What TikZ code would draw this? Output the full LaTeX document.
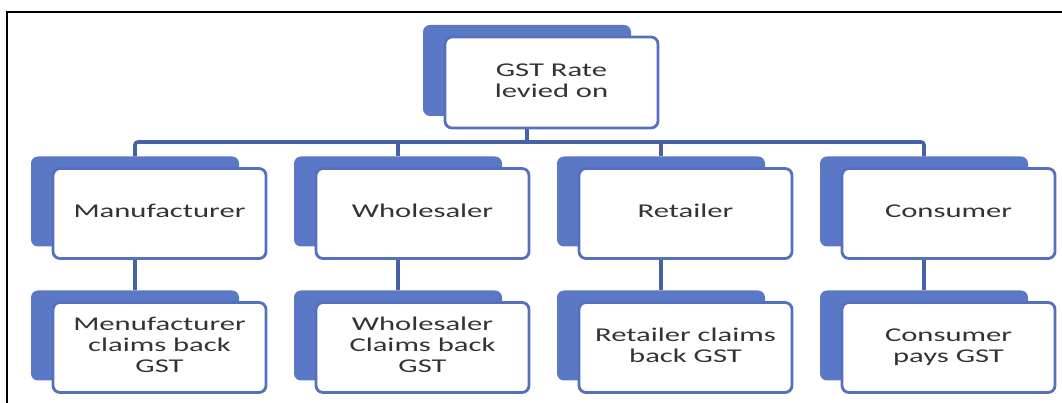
\documentclass[tikz,border=0pt]{standalone}
\usepackage{fontspec}
\setmainfont{Carlito}

\definecolor{gstblue}{HTML}{5B78C6}
\definecolor{gstedge}{HTML}{5470BE}
\definecolor{gstline}{HTML}{4661A6}
\definecolor{gsttext}{HTML}{333333}

% box labels are set wide, as in the chart
\newcommand{\wide}[1]{\scalebox{1.57}[1]{\begin{tabular}{@{}c@{}}#1\end{tabular}}}

\begin{document}
\begin{tikzpicture}[x=1pt, y=1pt,
  back/.style={rectangle, rounded corners=7pt, fill=gstblue,
    minimum width=208pt, minimum height=90pt},
  front/.style={rectangle, rounded corners=7pt, draw=gstedge, line width=2.8pt,
    fill=white, minimum width=213pt, minimum height=90pt, inner sep=0pt,
    text=gsttext, font=\fontsize{19.5}{21}\selectfont,
    xshift=24.5pt, yshift=-12pt},
  link/.style={draw=gstline, line width=3.6pt}]
  \useasboundingbox (0,0) rectangle (1062,403);
  \draw[line width=2.5pt] (7,0) -- (7,391) -- (1062,391);

  % top
  \node[back, minimum height=91pt] (rateB) at (527,332.5) {};
  \node[front, minimum height=91pt] (rate) at (rateB) {\wide{GST Rate\\levied on}};

  % middle row
  \node[back] (mfrB) at (135,201.5) {};
  \node[front] (mfr) at (mfrB) {\wide{Manufacturer}};
  \node[back] (whlB) at (398,201.5) {};
  \node[front] (whl) at (whlB) {\wide{Wholesaler}};
  \node[back] (retB) at (661,201.5) {};
  \node[front] (ret) at (retB) {\wide{Retailer}};
  \node[back] (conB) at (924,201.5) {};
  \node[front] (con) at (conB) {\wide{Consumer}};

  % bottom row
  \node[back] (mfrlB) at (135,67.5) {};
  \node[front] (mfrl) at (mfrlB) {\wide{Menufacturer\\claims back\\GST}};
  \node[back] (whllB) at (398,67.5) {};
  \node[front] (whll) at (whllB) {\wide{Wholesaler\\Claims back\\GST}};
  \node[back] (retlB) at (661,67.5) {};
  \node[front] (retl) at (retlB) {\wide{Retailer claims\\back GST}};
  \node[back] (conlB) at (924,67.5) {};
  \node[front] (conl) at (conlB) {\wide{Consumer\\pays GST}};

  % connectors
  \coordinate (bus) at (0,261);
  \draw[link] (rateB.center |- rate.south) -- (rateB.center |- bus);
  \draw[link, rounded corners=3pt] (mfrB.north) -- (mfrB.north |- bus)
    -- (conB.north |- bus) -- (conB.north);
  \draw[link] (whlB.north |- bus) -- (whlB.north);
  \draw[link] (retB.north |- bus) -- (retB.north);
  \draw[link] (mfrB.center |- mfr.south) edge (mfrlB.north)
              (whlB.center |- whl.south) edge (whllB.north)
              (retB.center |- ret.south) edge (retlB.north)
              (conB.center |- con.south) edge (conlB.north);
\end{tikzpicture}
\end{document}
